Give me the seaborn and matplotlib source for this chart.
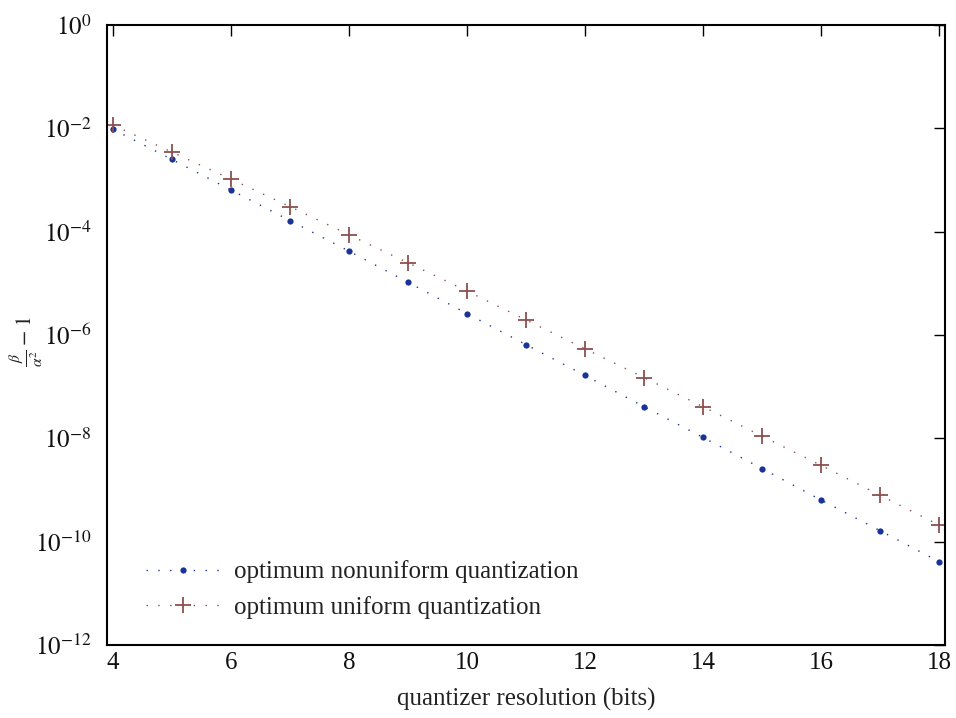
import numpy as np
import pandas as pd
import matplotlib
matplotlib.use("Agg")
import matplotlib.pyplot as plt
import seaborn as sns

bits = [4, 5, 6, 7, 8, 9, 10, 11, 12, 13, 14, 15, 16, 17, 18]
nonuniform = [9.6e-3, 2.5e-3, 6.4e-4, 1.64e-4, 4.2e-5, 1.05e-5, 2.6e-6, 6.5e-7,
              1.65e-7, 4.1e-8, 1.04e-8, 2.6e-9, 6.4e-10, 1.63e-10, 4.1e-11]
uniform = [1.16e-2, 3.47e-3, 1.04e-3, 3.06e-4, 8.7e-5, 2.5e-5, 7.1e-6, 1.96e-6,
           5.4e-7, 1.5e-7, 4.1e-8, 1.1e-8, 3.0e-9, 7.9e-10, 2.1e-10]
labels = ["optimum nonuniform quantization", "optimum uniform quantization"]

sns.set_style("white")
plt.rcParams["font.family"] = ["Liberation Serif", "DejaVu Serif"]
plt.rcParams["mathtext.fontset"] = "stix"

fig = plt.figure(figsize=(9.56, 7.18), dpi=100)
ax = fig.add_axes([107/956, 1 - 645/718, (945 - 107)/956, (645 - 25)/718])

blue = "#1a3399"
red = "#8c4f50"
df1 = pd.DataFrame({"x": bits, "y": nonuniform})
df2 = pd.DataFrame({"x": bits, "y": uniform})
sns.lineplot(data=df1, x="x", y="y", ax=ax, color=blue, linestyle=(0, (1, 7.5)),
             linewidth=1.0, marker="o", markersize=4.5, markeredgewidth=0,
             markerfacecolor=blue, markeredgecolor=blue, label=labels[0])
sns.lineplot(data=df2, x="x", y="y", ax=ax, color=red, linestyle=(0, (1, 7.5)),
             linewidth=1.0, marker="+", markersize=12, markeredgewidth=1.3,
             markeredgecolor=red, markerfacecolor=red, label=labels[1])

ax.set_yscale("log")
ax.set_xlim(3.9, 18.1)
ax.set_ylim(1e-12, 1e0)
ax.set_xticks([4, 6, 8, 10, 12, 14, 16, 18])
ax.set_yticks([10.0**k for k in range(-12, 1, 2)])
ax.set_yticklabels([r"$10^{%d}$" % k for k in range(-12, 1, 2)])
ax.yaxis.set_minor_locator(matplotlib.ticker.NullLocator())
ax.tick_params(axis="both", which="major", direction="in", length=8, width=1,
               top=True, right=True, labelsize=18, color="black", labelcolor="#111111")
ax.tick_params(axis="y", pad=11)
ax.tick_params(axis="x", pad=5)
for s in ax.spines.values():
    s.set_color("black")
    s.set_linewidth(1.5)

ax.set_xlabel("quantizer resolution (bits)", fontsize=18, color="#222222", labelpad=10)
ylab = ax.set_ylabel(r"$\frac{\beta}{\alpha^2}-1$", fontsize=16, color="#222222")
ylab.set_verticalalignment("top")
ax.yaxis.set_label_coords(-0.119, 0.49)

leg = ax.legend(loc="lower left", bbox_to_anchor=(0.02, 0.006), frameon=False,
                fontsize=18, handlelength=2.9, handletextpad=0.6, labelspacing=0.5)
for t in leg.get_texts():
    t.set_color("#222222")

fig.savefig("out.png", dpi=100)
